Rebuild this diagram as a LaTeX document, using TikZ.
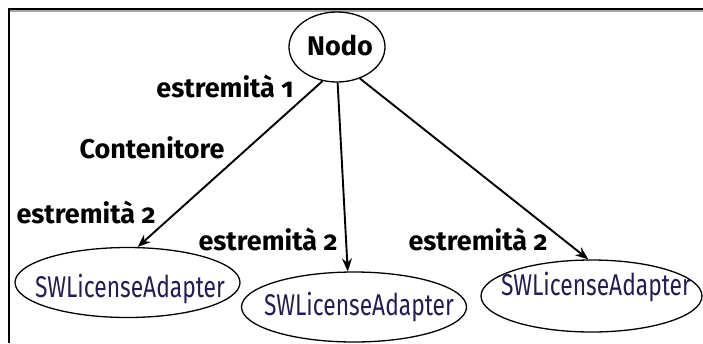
\documentclass[tikz,border=0pt]{standalone}
\usepackage{fontspec}
\setmainfont{Fira Sans}[Numbers=OldStyle]
\newfontfamily\classfont{Fira Sans}[FakeStretch=0.76]
\usetikzlibrary{arrows.meta,shapes.geometric}
\definecolor{classtext}{RGB}{35,30,80}
\begin{document}
\begin{tikzpicture}[x=1pt,y=-1pt,
  entity/.style={draw,ellipse,line width=1.3pt,inner sep=0pt,minimum width=225pt,minimum height=70pt},
  classname/.style={anchor=base,inner sep=0pt,font=\classfont\fontsize{30}{32}\selectfont,text=classtext},
  rolelabel/.style={anchor=base,font=\bfseries\fontsize{27}{30}\selectfont,inner sep=0pt},
  assoc/.style={line width=1.9pt,-{Stealth[length=13pt,width=10pt]}}]
  \useasboundingbox (0,0) rectangle (703,343);
  % frame edges
  \draw[line width=1.2pt,black!35] (9,11) -- (703,11);
  \draw[line width=2pt] (8,9) -- (703,9);
  \draw[line width=2pt] (9,9) -- (9,343);
  % root node
  \node[draw,ellipse,line width=1.3pt,minimum width=96pt,minimum height=70pt,inner sep=0pt] (nodo) at (337,47) {};
  \node[rolelabel] (nodotext) at (340,55) {Nodo};
  % class nodes
  \node[entity] (a1) at (127.5,282.5) {};
  \node[entity] (a2) at (354,307) {};
  \node[entity,minimum width=221pt,minimum height=72pt] (a3) at (591.5,296) {};
  \node[classname] (t1) at (130,297) {SWLicenseAdapter};
  \node[classname] (t2) at (359,315) {SWLicenseAdapter};
  \node[classname] (t3) at (596,295) {SWLicenseAdapter};
  % associations
  \draw[assoc] (nodo.247) -- (a1.74);
  \draw[assoc] (nodo.271) -- (a2.100);
  \draw[assoc] (nodo.306) -- (a3.95);
  % role labels
  \node[rolelabel] (e1) at (225,97) {estremità 1};
  \node[rolelabel] (ct) at (152,158) {Contenitore};
  \node[rolelabel] (e2a) at (86,223) {estremità 2};
  \node[rolelabel] (e2b) at (268,250) {estremità 2};
  \node[rolelabel] (e2c) at (478,250) {estremità 2};
\end{tikzpicture}
\end{document}
